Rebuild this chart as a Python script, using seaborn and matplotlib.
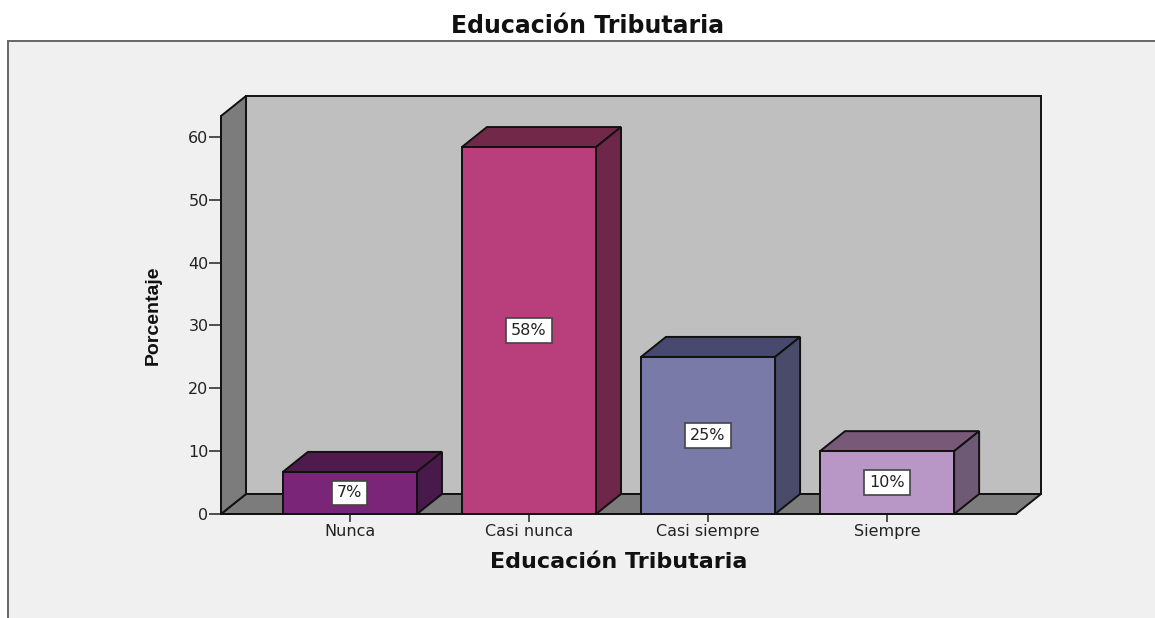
import numpy as np
import pandas as pd
import matplotlib
matplotlib.use("Agg")
import matplotlib.pyplot as plt
from matplotlib.patches import Polygon, Rectangle
import seaborn as sns

categorias = ["Nunca", "Casi nunca", "Casi siempre", "Siempre"]
porcentajes = [6.7, 58.4, 25, 10]
etiquetas = ["7%", "58%", "25%", "10%"]
frente = ["#7b2579", "#b93e7c", "#7a7aa9", "#b897c6"]
lateral = ["#481a4c", "#6e2649", "#4a4b6a", "#6f5a76"]
arriba = ["#4f1b4c", "#722849", "#474a6e", "#785a78"]
yticks = [0, 10, 20, 30, 40, 50, 60]

W, H = 1155, 618
sns.set_theme(style="white")
plt.rcParams["font.family"] = ["DejaVu Sans"]
fig = plt.figure(figsize=(W / 100, H / 100), dpi=100, facecolor="white")

# fondo gris con borde
bg = fig.add_axes([0, 0, 1, 1], zorder=0)
bg.set_xlim(0, W)
bg.set_ylim(H, 0)
bg.axis("off")
bg.add_patch(Rectangle((8, 41), W, H, fc="#f0f0f0", ec="#666666", lw=1.4))

# eje principal: frente de la caja 3d
ax = fig.add_axes([221 / W, 1 - 514 / H, (1016 - 221) / W, (514 - 116) / H], zorder=2)
ax.patch.set_alpha(0)
df = pd.DataFrame({"cat": categorias, "pct": porcentajes})
sns.barplot(data=df, x="cat", y="pct", hue="cat", palette=frente, legend=False,
            width=0.749, edgecolor="#111111", linewidth=1.4, saturation=1, ax=ax, zorder=5)
ax.set_xlim(-0.72, 3.72)
ax.set_ylim(0, 63.34)
ax.set_yticks(yticks)
ax.set_yticklabels([str(t) for t in yticks], fontsize=11.5, color="#222222")
ax.set_xticks(range(4))
ax.set_xticklabels(categorias, fontsize=11.5, color="#222222")
ax.tick_params(axis="y", length=9, width=1.2, color="#333333", pad=0, left=True)
ax.tick_params(axis="x", length=6, width=1.2, color="#333333", pad=1.5, bottom=True)
for s in ["top", "right"]:
    ax.spines[s].set_visible(False)
ax.spines["left"].set_linewidth(1.4)
ax.spines["left"].set_color("#111111")
ax.spines["bottom"].set_linewidth(1.4)
ax.spines["bottom"].set_color("#111111")
ax.set_xlabel("Educación Tributaria", fontsize=16, fontweight="bold", labelpad=9, color="#111111")
ax.set_ylabel("Porcentaje", fontsize=14, fontweight="bold", labelpad=19, color="#111111",
              fontfamily=["Liberation Sans", "DejaVu Sans"])

# profundidad 3d
dx, dy = 25, 20
fig.canvas.draw()
inv = bg.transData.inverted()


def to_bg(x, y):
    return inv.transform(ax.transData.transform((x, y)))


x0, y0 = to_bg(ax.get_xlim()[0], 0)
x1, y1 = to_bg(ax.get_xlim()[1], ax.get_ylim()[1])
suelo = Polygon([(x0, y0), (x1, y0), (x1 + dx, y0 - dy), (x0 + dx, y0 - dy)], fc="#7c7c7c", ec="#111111", lw=1.4, zorder=2)
pared = Polygon([(x0, y0), (x0 + dx, y0 - dy), (x0 + dx, y1 - dy), (x0, y1)], fc="#7c7c7c", ec="#111111", lw=1.4, zorder=2)
fondo = Rectangle((x0 + dx, y1 - dy), x1 - x0, y0 - y1, fc="#bfbfbf", ec="#111111", lw=1.4, zorder=1)
bg.add_patch(fondo)
bg.add_patch(suelo)
bg.add_patch(pared)

# caras laterales y superiores de cada barra
for i, bar in enumerate(ax.patches):
    a, b = bar.get_x(), bar.get_x() + bar.get_width()
    h = bar.get_height()
    xa, ya = to_bg(a, h)
    xb, yb = to_bg(b, 0)
    bg.add_patch(Polygon([(xa, ya), (xb, ya), (xb + dx, ya - dy), (xa + dx, ya - dy)],
                         fc=arriba[i], ec="#111111", lw=1.4, zorder=3))
    bg.add_patch(Polygon([(xb, ya), (xb, yb), (xb + dx, yb - dy), (xb + dx, ya - dy)],
                         fc=lateral[i], ec="#111111", lw=1.4, zorder=3))
    ax.text(i, h / 2, etiquetas[i], ha="center", va="center", fontsize=11.5, color="#222222", zorder=6,
            bbox=dict(boxstyle="square,pad=0.3", fc="white", ec="#444444", lw=1.2))

fig.text(588 / W, 1 - 26 / H, "Educación Tributaria", ha="center", va="center",
         fontsize=17, fontweight="bold", color="#111111", zorder=5)
fig.savefig("out.png", dpi=100, facecolor="white")
